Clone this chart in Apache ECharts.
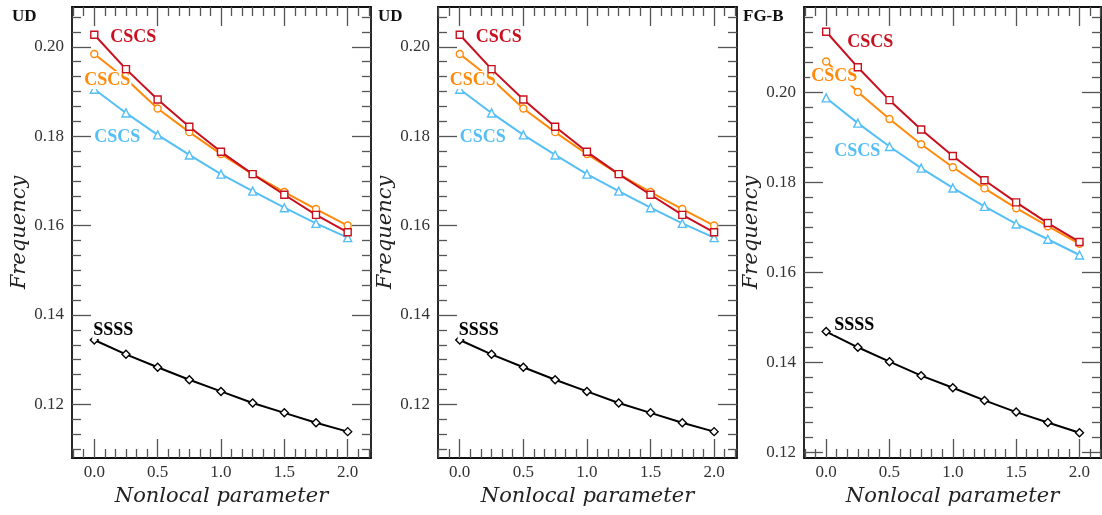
<!DOCTYPE html>
<html><head><meta charset="utf-8">
<script src="https://cdn.jsdelivr.net/npm/echarts@6/dist/echarts.min.js"></script>
<style>html,body{margin:0;padding:0;background:#fff}#c{width:1102px;height:515px}</style>
</head><body><div id="c"></div>
<script>
// ---- data ----
var xVals = [0, 0.25, 0.5, 0.75, 1.0, 1.25, 1.5, 1.75, 2.0];
var panelTitles = ['UD', 'UD', 'FG-B'];
var seriesLabels = ['CSCS', 'CSCS', 'CSCS', 'SSSS'];
// Panel 1 (UD)
var ud1Red    = [0.2027, 0.1950, 0.1882, 0.1821, 0.1765, 0.1715, 0.1669, 0.1624, 0.1585];
var ud1Orange = [0.1984, 0.1928, 0.1862, 0.1809, 0.1760, 0.1715, 0.1675, 0.1637, 0.1600];
var ud1Blue   = [0.1905, 0.1852, 0.1803, 0.1758, 0.1715, 0.1677, 0.1640, 0.1605, 0.1573];
var ud1Black  = [0.1344, 0.1312, 0.1283, 0.1255, 0.1229, 0.1203, 0.1181, 0.1159, 0.1139];
// Panel 2 (UD)
var ud2Red    = [0.2027, 0.1950, 0.1882, 0.1821, 0.1765, 0.1715, 0.1669, 0.1624, 0.1585];
var ud2Orange = [0.1984, 0.1928, 0.1862, 0.1809, 0.1760, 0.1715, 0.1675, 0.1637, 0.1600];
var ud2Blue   = [0.1905, 0.1852, 0.1803, 0.1758, 0.1715, 0.1677, 0.1640, 0.1605, 0.1573];
var ud2Black  = [0.1344, 0.1312, 0.1283, 0.1255, 0.1229, 0.1203, 0.1181, 0.1159, 0.1139];
// Panel 3 (FG-B)
var fgRed     = [0.2135, 0.2056, 0.1983, 0.1918, 0.1859, 0.1805, 0.1756, 0.1710, 0.1668];
var fgOrange  = [0.2069, 0.2001, 0.1941, 0.1885, 0.1834, 0.1787, 0.1743, 0.1703, 0.1664];
var fgBlue    = [0.1988, 0.1932, 0.1880, 0.1832, 0.1788, 0.1747, 0.1708, 0.1674, 0.1639];
var fgBlack   = [0.1469, 0.1434, 0.1402, 0.1371, 0.1344, 0.1316, 0.1290, 0.1267, 0.1244];
// ticks
var xMajorTicks = [0.0, 0.5, 1.0, 1.5, 2.0];
var yMajorTicksUD = [0.12, 0.14, 0.16, 0.18, 0.20];
var yMajorTicksFG = [0.12, 0.14, 0.16, 0.18, 0.20];

// ---- layout / style ----
var panels = [
  {title: panelTitles[0], data: [ud1Red, ud1Orange, ud1Blue, ud1Black], ymaj: yMajorTicksUD,
   grid: {left: 72, top: 7, width: 299, height: 451}, ymin: 0.108, ymax: 0.2089, xmin: -0.176, xmax: 2.184,
   off: [[39, 3], [13, 26], [23, 48], [19, -10]], titleLeft: 7},
  {title: panelTitles[1], data: [ud2Red, ud2Orange, ud2Blue, ud2Black], ymaj: yMajorTicksUD,
   grid: {left: 438, top: 7, width: 299, height: 451}, ymin: 0.108, ymax: 0.2089, xmin: -0.171, xmax: 2.18,
   off: [[39, 3], [13, 26], [23, 48], [19, -10]], titleLeft: 373},
  {title: panelTitles[2], data: [fgRed, fgOrange, fgBlue, fgBlack], ymaj: yMajorTicksFG,
   grid: {left: 804, top: 7, width: 297, height: 451}, ymin: 0.1188, ymax: 0.219, xmin: -0.175, xmax: 2.17,
   off: [[44, 11], [8, 15], [31, 53], [28, -6]], titleLeft: 738}
];
var colors = ['#c8101e', '#ff8a0a', '#55bff5', '#000000'];
var symbols = ['rect', 'circle', 'triangle', 'diamond'];
var symSizes = [7, 7, 8, 8];

function minorList(majors, step, lo, hi) {
  var out = [];
  var sub = step / 6;
  var start = majors[0] - Math.ceil((majors[0] - lo) / sub) * sub;
  for (var k = 0; ; k++) {
    var v = +(start + k * sub).toFixed(6);
    if (v > hi) break;
    if (v < lo) continue;
    var isMajor = majors.some(function (m) { return Math.abs(m - v) < sub / 10; });
    if (!isMajor) out.push(v);
  }
  return out;
}

var tickFont = 'Liberation Serif';
var titleFont = 'DejaVu Serif';
var grids = [], xAxes = [], yAxes = [], series = [], titles = [];

panels.forEach(function (p, pi) {
  grids.push(p.grid);
  var xMinor = minorList(xMajorTicks, 0.5, p.xmin, p.xmax);
  var yMinor = minorList(p.ymaj, 0.02, p.ymin, p.ymax);
  var xBase = xAxes.length, yBase = yAxes.length;
  function xa(pos, major, main) {
    return {
      type: 'value', gridIndex: pi, position: pos, min: p.xmin, max: p.xmax,
      splitLine: {show: false},
      axisLine: {show: major, onZero: false, lineStyle: {color: '#111', width: 1.8}},
      axisTick: {show: true, inside: true, length: major ? 19 : 9,
                 customValues: major ? xMajorTicks : xMinor,
                 lineStyle: {color: '#555', width: 1.3}},
      axisLabel: main ? {show: true, customValues: xMajorTicks, margin: 6,
                 formatter: function (v) { return v.toFixed(1); },
                 fontFamily: tickFont, fontSize: 17, color: '#333'} : {show: false},
      name: main ? 'Nonlocal parameter' : '', nameLocation: 'middle', nameGap: 27,
      nameTextStyle: {fontFamily: titleFont, fontStyle: 'italic', fontSize: 21, color: '#222'}
    };
  }
  function ya(pos, major, main) {
    return {
      type: 'value', gridIndex: pi, position: pos, min: p.ymin, max: p.ymax,
      splitLine: {show: false},
      axisLine: {show: major, onZero: false, lineStyle: {color: '#111', width: 1.8}},
      axisTick: {show: true, inside: true, length: major ? 19 : 9,
                 customValues: major ? p.ymaj : yMinor,
                 lineStyle: {color: '#555', width: 1.3}},
      axisLabel: main ? {show: true, customValues: p.ymaj, margin: 8,
                 formatter: function (v) { return v.toFixed(2); },
                 fontFamily: tickFont, fontSize: 17, color: '#333'} : {show: false},
      name: main ? 'Frequency' : '', nameLocation: 'middle', nameGap: 34, nameRotate: 90,
      nameTextStyle: {fontFamily: titleFont, fontStyle: 'italic', fontSize: 21, color: '#222'}
    };
  }
  xAxes.push(xa('bottom', true, true), xa('top', true, false), xa('bottom', false, false), xa('top', false, false));
  yAxes.push(ya('left', true, true), ya('right', true, false), ya('left', false, false), ya('right', false, false));

  p.data.forEach(function (vals, si) {
    series.push({
      type: 'line', xAxisIndex: xBase, yAxisIndex: yBase,
      symbol: symbols[si], symbolSize: symSizes[si], showAllSymbol: true,
      lineStyle: {color: colors[si], width: 2},
      itemStyle: {color: '#fff', borderColor: colors[si], borderWidth: 1.4},
      emphasis: {disabled: true}, silent: true, z: 2 + (3 - si),
      data: vals.map(function (v, i) {
        var d = {value: [xVals[i], v]};
        if (i === 0) {
          d.label = {show: true, position: 'inside', offset: p.off[si],
                     formatter: seriesLabels[si], fontFamily: tickFont, fontWeight: 'bold',
                     fontSize: 18, color: colors[si], backgroundColor: '#fff', padding: [0, 1]};
        }
        return d;
      })
    });
  });
  titles.push({text: p.title, left: p.titleLeft, top: 3,
               textStyle: {fontFamily: tickFont, fontWeight: 'bold', fontSize: 17, color: '#111'}});
});

var chart = echarts.init(document.getElementById('c'), null, {renderer: 'canvas'});
chart.setOption({
  animation: false, backgroundColor: '#fff',
  title: titles, grid: grids, xAxis: xAxes, yAxis: yAxes, series: series
});
</script></body></html>
